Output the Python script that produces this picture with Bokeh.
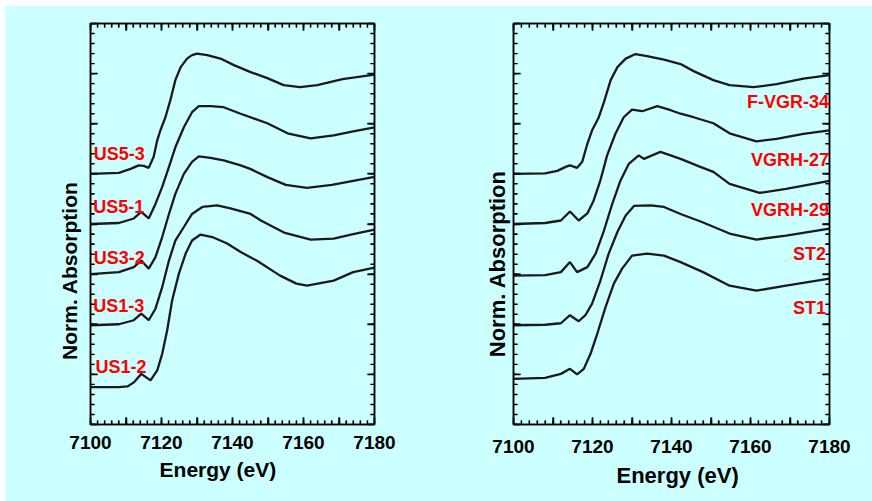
from bokeh.plotting import figure
from bokeh.models import LinearAxis, FixedTicker, Label
from bokeh.layouts import row
from bokeh.embed import file_html
from bokeh.resources import INLINE

# ---------------- data (offset-stacked normalized absorption) ----------------
x_major_ticks = [7100, 7110, 7120, 7130, 7140, 7150, 7160, 7170, 7180]
x_minor_ticks = list(range(7100, 7181, 2))
x_label_ticks = [7100, 7120, 7140, 7160, 7180]
y_major_ticks = [0, 1, 2, 3, 4, 5, 6, 7, 8]
y_minor_ticks = [i * 0.2 for i in range(0, 41)]

# left panel
us53_e = [7100, 7108, 7111.3, 7113.6, 7115.0, 7116.4, 7117.8, 7118.8, 7119.7, 7121.1, 7122.5, 7123.9,
          7125.4, 7127.2, 7128.6, 7130.0, 7132.9, 7136.6, 7140.4, 7145.1, 7149.8, 7154.4, 7159, 7163.9, 7171, 7180]
us53_y = [5.00, 5.02, 5.10, 5.17, 5.16, 5.12, 5.34, 5.67, 5.87, 6.13, 6.47, 6.87,
          7.13, 7.30, 7.37, 7.40, 7.37, 7.30, 7.17, 7.03, 6.91, 6.77, 6.73, 6.77, 6.89, 6.98]

us51_e = [7100, 7108, 7112.2, 7114.3, 7116.4, 7118.3, 7120.2, 7122.1, 7123.9, 7126.3, 7128.6, 7130.5,
          7133.8, 7137.5, 7142.3, 7149.8, 7155.5, 7162, 7168.5, 7174, 7180]
us51_y = [4.00, 4.02, 4.11, 4.24, 4.11, 4.40, 4.74, 5.14, 5.53, 5.93, 6.23, 6.35,
          6.35, 6.33, 6.20, 6.01, 5.81, 5.71, 5.77, 5.85, 5.93]

us32_e = [7100, 7108, 7112.2, 7114.3, 7116.4, 7118.3, 7120.2, 7122.1, 7123.9, 7126.3, 7128.6, 7130.5,
          7133.8, 7137.5, 7142.3, 7145, 7150, 7155, 7161, 7168, 7174, 7180]
us32_y = [3.00, 3.04, 3.14, 3.27, 3.11, 3.34, 3.74, 4.20, 4.60, 5.00, 5.24, 5.35,
          5.32, 5.27, 5.17, 5.10, 4.93, 4.78, 4.72, 4.78, 4.86, 4.94]

us13_e = [7100, 7108, 7112.2, 7114.3, 7116.4, 7118.3, 7120.2, 7122.1, 7123.9, 7126.3, 7128.6, 7131.5,
          7135.7, 7139.4, 7145.1, 7148, 7154.5, 7162, 7168.5, 7174, 7180]
us13_y = [1.98, 2.00, 2.08, 2.21, 2.08, 2.31, 2.74, 3.27, 3.67, 3.94, 4.20, 4.34,
          4.37, 4.31, 4.20, 4.07, 3.83, 3.69, 3.71, 3.80, 3.89]

us12_e = [7100, 7108, 7110.4, 7112.2, 7114.3, 7116.9, 7118.8, 7120.2, 7121.6, 7123.0, 7124.9, 7126.8,
          7128.6, 7131.0, 7134.3, 7138.5, 7142.3, 7146.8, 7153.4, 7158, 7161, 7168.5, 7174, 7180]
us12_y = [0.745, 0.745, 0.76, 0.84, 1.01, 0.88, 1.08, 1.41, 1.88, 2.48, 3.01, 3.41,
          3.67, 3.79, 3.74, 3.61, 3.44, 3.27, 2.97, 2.81, 2.77, 2.87, 3.04, 3.13]

left_names = ["US5-3", "US5-1", "US3-2", "US1-3", "US1-2"]
left_label_x = [7100.9, 7100.8, 7100.9, 7100.8, 7101.4]
left_label_y = [5.40, 4.34, 3.33, 2.36, 1.15]

# right panel
fvgr34_e = [7100, 7108, 7111.1, 7113.2, 7114.3, 7116.1, 7117.4, 7118.7, 7119.9, 7121.6, 7122.9, 7124.6,
            7126.3, 7128.4, 7130.9, 7133.8, 7138.1, 7142.3, 7145.6, 7150.6, 7154.7, 7160.8, 7166.6, 7173.4, 7180]
fvgr34_y = [5.00, 5.01, 5.06, 5.14, 5.17, 5.12, 5.24, 5.60, 5.87, 6.13, 6.43, 6.87,
            7.13, 7.30, 7.39, 7.35, 7.28, 7.19, 7.05, 6.87, 6.77, 6.73, 6.79, 6.90, 6.97]

vgrh27_e = [7100, 7108, 7112.0, 7114.3, 7116.5, 7118.7, 7120.3, 7122.0, 7123.7, 7125.8, 7127.9, 7130.0,
            7132.6, 7136.4, 7139.8, 7142.3, 7145.6, 7150.6, 7154.7, 7161.5, 7166.6, 7173.4, 7180]
vgrh27_y = [4.00, 4.02, 4.07, 4.25, 4.07, 4.21, 4.47, 4.87, 5.37, 5.80, 6.13, 6.28,
            6.25, 6.35, 6.27, 6.20, 6.13, 6.01, 5.81, 5.65, 5.70, 5.80, 5.87]

vgrh29_e = [7100, 7108, 7112.0, 7114.3, 7116.1, 7118.7, 7120.8, 7122.9, 7125.0, 7127.1, 7129.2, 7131.7,
            7133.0, 7137.2, 7142.3, 7147.3, 7150.6, 7154.7, 7162.3, 7169, 7180]
vgrh29_y = [2.97, 2.98, 3.04, 3.24, 3.04, 3.14, 3.41, 3.87, 4.40, 4.87, 5.20, 5.37,
            5.30, 5.44, 5.30, 5.14, 5.04, 4.80, 4.62, 4.70, 4.86]

st2_e = [7100, 7108, 7112.0, 7114.3, 7116.5, 7118.2, 7119.9, 7122.0, 7124.1, 7126.3, 7128.4, 7130.5,
         7134.7, 7138.1, 7142.3, 7147.7, 7154.7, 7161.5, 7169, 7180]
st2_y = [1.98, 1.99, 2.02, 2.18, 2.06, 2.18, 2.41, 2.87, 3.41, 3.84, 4.17, 4.36,
         4.37, 4.34, 4.20, 4.04, 3.81, 3.69, 3.77, 3.91]

st1_e = [7100, 7108, 7112.0, 7114.3, 7116.1, 7117.8, 7119.5, 7121.2, 7123.3, 7125.4, 7127.5, 7130.0,
         7133.8, 7138.1, 7142.3, 7148, 7154.7, 7161.5, 7169, 7180]
st1_y = [0.91, 0.93, 1.01, 1.11, 1.00, 1.11, 1.41, 1.81, 2.34, 2.81, 3.11, 3.37,
         3.41, 3.37, 3.24, 3.04, 2.77, 2.67, 2.77, 2.91]

right_names = ["F-VGR-34", "VGRH-27", "VGRH-29", "ST2", "ST1"]
right_label_x = [7179.9, 7179.9, 7179.9, 7179.1, 7179.1]
right_label_y = [6.44, 5.28, 4.28, 3.40, 2.32]

# ---------------- styling ----------------
BG = "#CCFFFF"
FONT = "Liberation Sans"
CURVE = "#1a1a1a"
NB = "\u00a0"
X_LO, X_HI, Y_LO, Y_HI = 7100, 7180, 0, 8


def tick_axis(ax):
    ax.major_tick_in = 7
    ax.major_tick_out = 0
    ax.minor_tick_in = 4
    ax.minor_tick_out = 0
    ax.axis_line_color = "black"
    ax.axis_line_width = 1.5
    ax.major_tick_line_color = "black"
    ax.minor_tick_line_color = "black"
    ax.major_tick_line_width = 1.5
    ax.minor_tick_line_width = 1.2
    ax.major_label_text_color = None
    ax.major_label_text_font_size = "0px"
    ax.major_label_standoff = 0


def make_panel(width, height, left, right, top, bottom, curves, names, lx, ly, align,
               ylabel, ylab_size, ylab_standoff, xlabel, xlab_size, tick_standoff, xlab_standoff):
    p = figure(width=width, height=height, x_range=(X_LO, X_HI), y_range=(Y_LO, Y_HI),
               output_backend="svg", toolbar_location=None,
               min_border_left=left, min_border_right=right,
               min_border_top=top, min_border_bottom=bottom,
               background_fill_color=BG, border_fill_color=BG,
               outline_line_color="black", outline_line_width=1.5)
    p.grid.visible = False

    xt = FixedTicker(ticks=x_major_ticks, minor_ticks=x_minor_ticks)
    yt = FixedTicker(ticks=y_major_ticks, minor_ticks=y_minor_ticks)

    p.xaxis.ticker = xt
    for ax in p.xaxis:
        tick_axis(ax)

    # second bottom axis: tick labels + title
    lab_ax = LinearAxis(ticker=FixedTicker(ticks=x_label_ticks, minor_ticks=[]))
    lab_ax.axis_line_color = None
    lab_ax.major_tick_line_color = None
    lab_ax.minor_tick_line_color = None
    lab_ax.major_tick_in = 0
    lab_ax.major_tick_out = 0
    lab_ax.minor_tick_in = 0
    lab_ax.minor_tick_out = 0
    lab_ax.major_label_text_font = FONT
    lab_ax.major_label_text_font_style = "bold"
    lab_ax.major_label_text_font_size = "19px"
    lab_ax.major_label_text_color = "black"
    lab_ax.major_label_standoff = tick_standoff
    lab_ax.axis_label = xlabel
    lab_ax.axis_label_text_font = FONT
    lab_ax.axis_label_text_font_style = "bold"
    lab_ax.axis_label_text_font_size = xlab_size
    lab_ax.axis_label_text_color = "black"
    lab_ax.axis_label_standoff = xlab_standoff
    p.add_layout(lab_ax, "below")

    p.yaxis.ticker = yt
    for ax in p.yaxis:
        tick_axis(ax)
        ax.axis_label = ylabel
        ax.axis_label_text_font = FONT
        ax.axis_label_text_font_style = "bold"
        ax.axis_label_text_font_size = ylab_size
        ax.axis_label_text_color = "black"
        ax.axis_label_standoff = ylab_standoff

    top_ax = LinearAxis(ticker=xt)
    tick_axis(top_ax)
    p.add_layout(top_ax, "above")
    rgt_ax = LinearAxis(ticker=yt)
    tick_axis(rgt_ax)
    p.add_layout(rgt_ax, "right")

    # inward tick marks on all four sides, also as short segments from each frame edge
    fw = width - left - right
    fh = height - top - bottom
    mx, my = 7.0 * (X_HI - X_LO) / fw, 7.0 * (Y_HI - Y_LO) / fh
    nx, ny = 4.0 * (X_HI - X_LO) / fw, 4.0 * (Y_HI - Y_LO) / fh
    nmin_x, nmaj_x = len(x_minor_ticks), len(x_major_ticks)
    nmin_y, nmaj_y = len(y_minor_ticks), len(y_major_ticks)
    sx0 = x_minor_ticks + x_minor_ticks + x_major_ticks + x_major_ticks
    sy0 = [Y_LO] * nmin_x + [Y_HI] * nmin_x + [Y_LO] * nmaj_x + [Y_HI] * nmaj_x
    sy1 = [Y_LO + ny] * nmin_x + [Y_HI - ny] * nmin_x + [Y_LO + my] * nmaj_x + [Y_HI - my] * nmaj_x
    p.segment(x0=sx0, y0=sy0, x1=sx0, y1=sy1, line_color="black", line_width=1.4)
    ty0 = y_minor_ticks + y_minor_ticks + y_major_ticks + y_major_ticks
    tx0 = [X_LO] * nmin_y + [X_HI] * nmin_y + [X_LO] * nmaj_y + [X_HI] * nmaj_y
    tx1 = [X_LO + nx] * nmin_y + [X_HI - nx] * nmin_y + [X_LO + mx] * nmaj_y + [X_HI - mx] * nmaj_y
    p.segment(x0=tx0, y0=ty0, x1=tx1, y1=ty0, line_color="black", line_width=1.4)

    for e, y in curves:
        p.line(e, y, line_color=CURVE, line_width=2.3)

    for n, x, y in zip(names, lx, ly):
        p.add_layout(Label(x=x, y=y, text=n, text_color="#FF0000", text_font=FONT,
                           text_font_style="bold", text_font_size="18px",
                           text_align=align, text_baseline="alphabetic"))
    return p


p1 = make_panel(431, 495, 85, 62, 17, 77,
                [(us53_e, us53_y), (us51_e, us51_y), (us32_e, us32_y), (us13_e, us13_y), (us12_e, us12_y)],
                left_names, left_label_x, left_label_y, "left",
                "Norm. Absorption" + NB * 16, "21px", 10,
                "Energy (eV)" + NB * 5, "21px", 11, 6)
p2 = make_panel(436, 495, 77, 43, 17, 77,
                [(fvgr34_e, fvgr34_y), (vgrh27_e, vgrh27_y), (vgrh29_e, vgrh29_y), (st2_e, st2_y), (st1_e, st1_y)],
                right_names, right_label_x, right_label_y, "right",
                "Norm. Absorption" + NB * 13, "22px", 4,
                NB * 2 + "Energy (eV)", "22px", 15, 7)

layout = row(p1, p2, margin=(6, 0, 0, 5), styles={"background-color": BG})
open("out.html", "w").write(file_html(layout, INLINE))
